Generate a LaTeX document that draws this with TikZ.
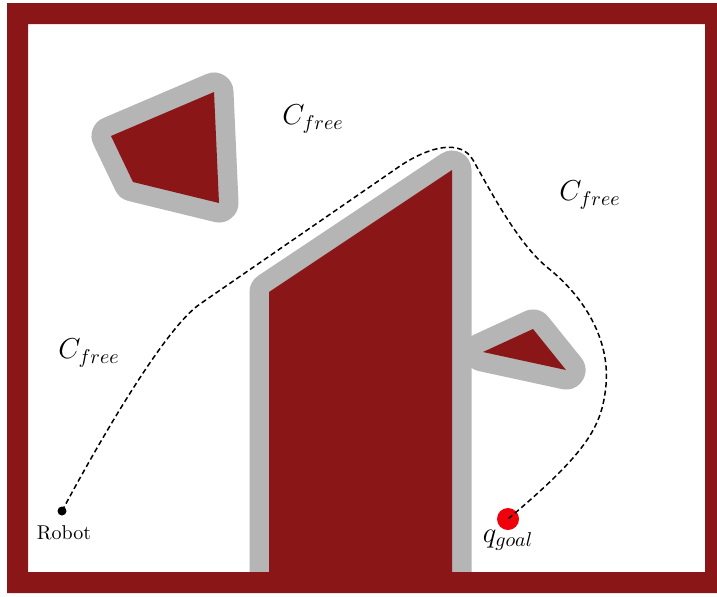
\documentclass[tikz,border=0pt]{standalone}
\definecolor{obst}{RGB}{139,22,24}
\definecolor{cobst}{RGB}{181,181,181}
\definecolor{goalred}{RGB}{240,0,10}
\begin{document}
\begin{tikzpicture}[x=0.5pt,y=-0.5pt,
  cspace/.style={draw=cobst,fill=cobst,line width=19.5pt,line join=round},
  obstacle/.style={fill=obst},
  cfreelbl/.style={font=\Large},
  pathline/.style={dash pattern=on 2.6pt off 1.6pt,line width=0.75pt}]
\useasboundingbox (0,0) rectangle (717,596);
\fill[white] (0,0) rectangle (717,596);
% C-space obstacles (grey)
\draw[cspace] (111,136) -- (214,92) -- (219,203) -- (133,182) -- cycle;
\draw[cspace] (269,292) -- (452,170) -- (452,572) -- (269,572) -- cycle;
\draw[cspace] (483,352) -- (533,329) -- (566,370) -- cycle;
% obstacles (dark red)
\fill[obstacle] (111,136) -- (214,92) -- (219,203) -- (133,182) -- cycle;
\fill[obstacle] (269,292) -- (452,170) -- (452,572) -- (269,572) -- cycle;
\fill[obstacle] (483,352) -- (533,329) -- (566,370) -- cycle;
% border
\fill[obstacle,even odd rule] (7,3) rectangle (730,593) (28,24) rectangle (705,572);
% labels
\node[cfreelbl] (cf1) at (313,119) {$C_{free}$};
\node[cfreelbl] (cf2) at (590,195) {$C_{free}$};
\node[cfreelbl] (cf3) at (89,353) {$C_{free}$};
% robot and goal
\node[circle,fill=black,inner sep=0pt,minimum size=4.5pt] (robot) at (62,511) {};
\node (robotlbl) at (64,533) {Robot};
\node[circle,fill=goalred,inner sep=0pt,minimum size=11pt] (goal) at (508,519) {};
\node[font=\Large] (goallbl) at (508,540) {$q_{goal}$};
% path
\draw[pathline] (robot.center) .. controls (100,440) and (165,328) .. (200,304)
  -- (400,166) .. controls (430,146) and (461,139) .. (473,160)
  .. controls (490,190) and (518,244) .. (548,268)
  .. controls (585,297.6) and (610,340) .. (606,385)
  .. controls (602,425) and (590,450) .. (goal.center);
\end{tikzpicture}
\end{document}
